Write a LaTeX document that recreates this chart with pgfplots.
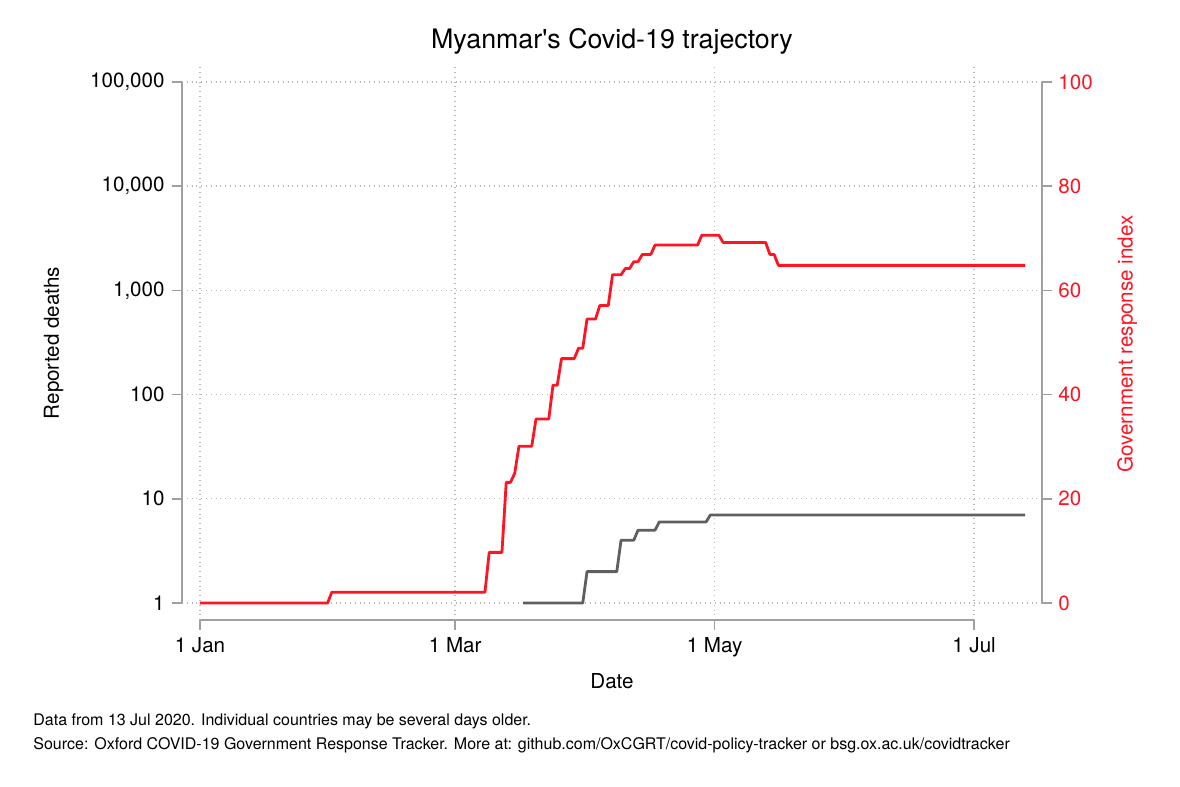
\documentclass[border=0pt]{standalone}
\usepackage{fontspec}
\setmainfont{TeX Gyre Heros}
\usepackage{pgfplots}
\pgfplotsset{compat=1.18}
\definecolor{sred}{RGB}{255,20,35}
\definecolor{sgray}{RGB}{95,95,95}
\definecolor{axgray}{RGB}{160,160,160}
\definecolor{gridgray}{RGB}{185,185,185}
\newcommand{\sq}{\XeTeXglyph\XeTeXglyphindex "quotesingle"\relax}
\begin{document}
\begin{tikzpicture}
\useasboundingbox (0,0) rectangle (590pt,393.5pt);
\begin{axis}[
  at={(91pt,83.5pt)}, anchor=south west,
  width=430pt, height=277.5pt, scale only axis,
  xmin=-4.232, xmax=197.98,
  ymode=log, ymin=0.6869, ymax=145600,
  xtick={0,60,121,182}, xticklabels={1 Jan,1 Mar,1 May,1 Jul},
  ytick={1,10,100,1000,10000,100000},
  yticklabels={1,10,100,{1,000},{10,000},{100,000}},
  yminorticks=false, xminorticks=false,
  xtick pos=bottom, ytick pos=left,
  tick align=outside, major tick length=5pt,
  tick style={axgray, line width=0.8pt},
  axis line style={draw=none},
  grid=major, major grid style={gridgray, dotted, line width=0.7pt},
  clip=false,
  tick label style={font=\fontsize{10.3}{12}\selectfont, inner sep=0pt},
  yticklabel style={anchor=east, xshift=-3.5pt},
  xticklabel style={anchor=base, yshift=-11.5pt},
]
\draw[axgray, line width=0.8pt] (axis cs:-4.232,1) -- (axis cs:-4.232,100000);
\draw[axgray, line width=0.8pt] (axis cs:0,0.6869) -- (axis cs:182,0.6869);
\addplot[sgray, line width=1.4pt, line join=round] coordinates {
(76,1) (90,1) (91,2) (98,2) (99,4) (102,4) (103,5) (107,5) (108,6) (119,6) (120,7) (194,7)
};
\end{axis}
\begin{axis}[
  at={(91pt,83.5pt)}, anchor=south west,
  width=430pt, height=277.5pt, scale only axis,
  xmin=-4.232, xmax=197.98,
  ymin=-3.263, ymax=103.26,
  xtick=\empty,
  ytick={0,20,40,60,80,100},
  yticklabels={0,20,40,60,80,100},
  ytick pos=right,
  tick align=outside, major tick length=5pt,
  tick style={axgray, line width=0.8pt},
  axis line style={draw=none},
  clip=false,
  tick label style={font=\fontsize{10.3}{12}\selectfont, inner sep=0pt, text=sred},
  yticklabel style={anchor=west, xshift=3pt},
]
\draw[axgray, line width=0.8pt] (axis cs:197.98,0) -- (axis cs:197.98,100);
\addplot[sred, line width=1.4pt, line join=round] coordinates {
(0,0) (30,0) (31,2.08) (67,2.08) (68,9.72) (71,9.72) (72,23.15) (73,23.15) (74,24.9) (75,30.1) (78,30.1) (79,35.3) (82,35.3) (83,41.8) (84,41.8) (85,46.9) (88,46.9) (89,48.9) (90,48.9) (91,54.5) (93,54.5) (94,57.1) (96,57.1) (97,63.0) (99,63.0) (100,64.2) (101,64.2) (102,65.5) (103,65.5) (104,66.9) (106,66.9) (107,68.7) (117,68.7) (118,70.6) (122,70.6) (123,69.2) (133,69.2) (134,66.9) (135,66.9) (136,64.8) (194,64.8)
};
\end{axis}
\node[anchor=base, font=\fontsize{13.4}{16}\selectfont, inner sep=0pt] at (306pt,369pt) {Myanmar\sq s Covid-19 trajectory};
\node[anchor=base, font=\fontsize{10.3}{12}\selectfont, inner sep=0pt] at (306pt,49.35pt) {Date};
\node[anchor=base, rotate=90, font=\fontsize{10.3}{12}\selectfont, inner sep=0pt] at (29.5pt,222pt) {Reported deaths};
\node[anchor=base, rotate=90, font=\fontsize{10.3}{12}\selectfont, inner sep=0pt, text=sred] at (566.3pt,221.5pt) {Government response index};
\node[anchor=base west, font=\fontsize{8}{9.5}\selectfont, inner sep=0pt] at (16.5pt,30.5pt) {Data from 13 Jul 2020. Individual countries may be several days older.};
\node[anchor=base west, font=\fontsize{8}{9.5}\selectfont, inner sep=0pt] at (16.5pt,18.5pt) {Source: Oxford COVID-19 Government Response Tracker. More at: github.com/OxCGRT/covid-policy-tracker or bsg.ox.ac.uk/covidtracker};
\end{tikzpicture}
\end{document}
